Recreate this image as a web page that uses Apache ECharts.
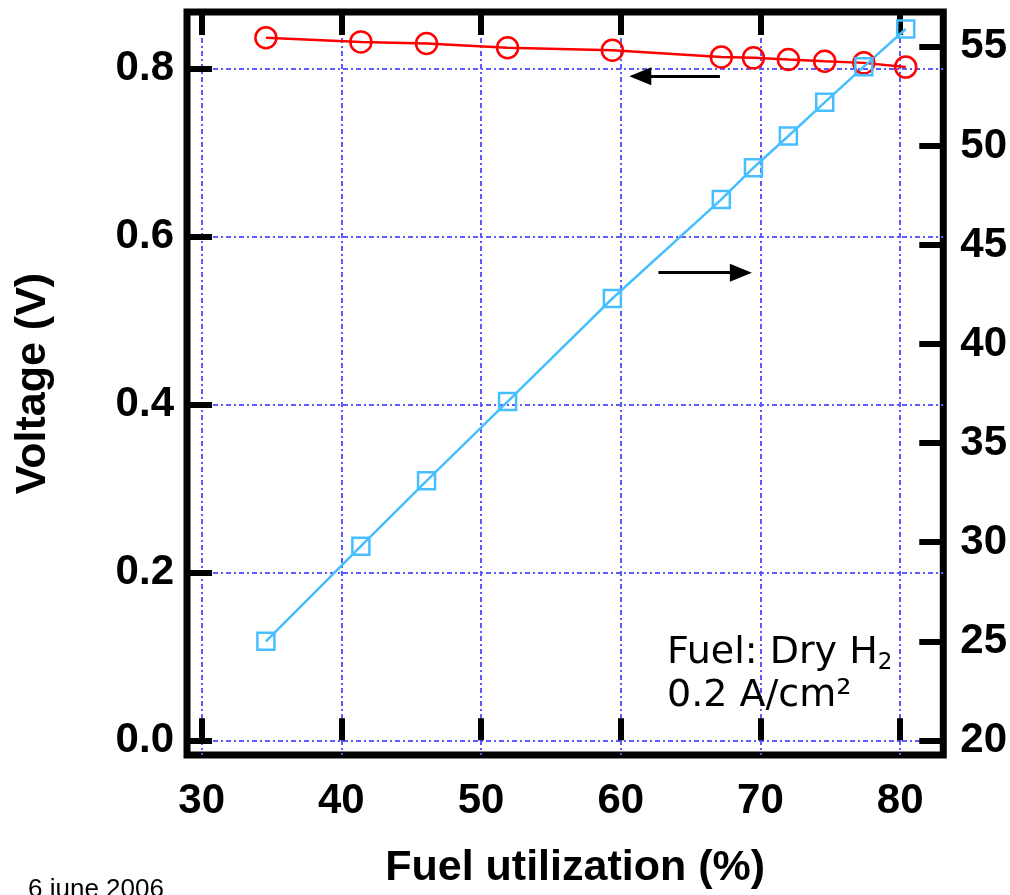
<!DOCTYPE html>
<html>
<head>
<meta charset="utf-8">
<script src="https://cdn.jsdelivr.net/npm/echarts@6/dist/echarts.min.js"></script>
<style>
  html, body { margin: 0; padding: 0; background: #fff; }
  #chart { width: 1010px; height: 895px; }
</style>
</head>
<body>
<div id="chart"></div>
<script>
// 燃料利用率 (%)，两条曲线共用
const utilization = [34.6, 41.4, 46.1, 51.9, 59.4, 67.2, 69.5, 72.0, 74.6, 77.4, 80.4];
// 电压 (V)，左轴
const voltage = [0.837, 0.832, 0.830, 0.825, 0.822, 0.814, 0.813, 0.811, 0.809, 0.807, 0.802];
// 右轴数值
const rightValues = [25.0, 29.8, 33.1, 37.1, 42.3, 47.3, 48.9, 50.5, 52.2, 54.0, 55.9];

// 刻度
const xTicks = [30, 40, 50, 60, 70, 80];
const voltTicks = [0, 0.2, 0.4, 0.6, 0.8];
const rightTicks = [20, 25, 30, 35, 40, 45, 50, 55];

// 箭头 [起点, 终点]
const leftArrow = [[67.1, 0.791], [61.4, 0.791]];
const rightArrow = [[62.7, 43.6], [68.6, 43.6]];

const chart = echarts.init(document.getElementById('chart'));

const font = '"Liberation Sans", Arial, sans-serif';
const labelStyle = { color: '#000', fontFamily: font, fontWeight: 'bold', fontSize: 42 };
const nameStyle = { color: '#000', fontFamily: font, fontWeight: 'bold', fontSize: 43 };
const gridLine = { show: true, lineStyle: { color: '#5a5aff', width: 2, type: [5, 3, 2, 3] } };
const tick = (len) => ({ show: true, inside: true, length: len, lineStyle: { color: '#000', width: 6 } });

const arrowLine = (pts) => ({
  silent: true,
  symbol: ['none', 'triangle'],
  symbolSize: [18, 22],
  label: { show: false },
  lineStyle: { color: '#000', width: 3, type: 'solid' },
  emphasis: { disabled: true },
  data: [[{ coord: pts[0] }, { coord: pts[1] }]]
});

const option = {
  animation: false,
  backgroundColor: '#fff',
  grid: {
    left: 187, right: 64, top: 12, bottom: 137,
    show: true, borderColor: '#000', borderWidth: 7
  },
  xAxis: [
    {
      type: 'value', position: 'bottom',
      min: 28.952, max: 83.088,
      axisLine: { show: false },
      axisTick: Object.assign(tick(22), { customValues: xTicks }),
      axisLabel: Object.assign({ margin: 25, customValues: xTicks }, labelStyle),
      splitLine: gridLine,
      name: 'Fuel utilization (%)',
      nameLocation: 'middle',
      nameGap: 92,
      nameTextStyle: Object.assign({ padding: [0, 0, 0, 20] }, nameStyle)
    },
    {
      type: 'value', position: 'top',
      min: 28.952, max: 83.088,
      axisLine: { show: false },
      axisTick: Object.assign(tick(23), { customValues: xTicks }),
      axisLabel: { show: false },
      splitLine: { show: false }
    }
  ],
  yAxis: [
    {
      type: 'value', position: 'left',
      min: -0.01744, max: 0.8676,
      axisLine: { show: false },
      axisTick: Object.assign(tick(25), { customValues: voltTicks }),
      axisLabel: Object.assign({
        margin: 13, customValues: voltTicks,
        formatter: (v) => v.toFixed(1)
      }, labelStyle),
      splitLine: gridLine,
      name: 'Voltage (V)',
      nameLocation: 'middle',
      nameGap: 132,
      nameRotate: 90,
      nameTextStyle: nameStyle
    },
    {
      type: 'value', position: 'right',
      min: 19.261, max: 56.759,
      axisLine: { show: false },
      axisTick: Object.assign(tick(24), { customValues: rightTicks }),
      axisLabel: Object.assign({ margin: 17, customValues: rightTicks }, labelStyle),
      splitLine: { show: false }
    }
  ],
  series: [
    {
      type: 'line',
      xAxisIndex: 0, yAxisIndex: 0,
      data: utilization.map((u, i) => [u, voltage[i]]),
      symbol: 'circle',
      symbolSize: 21,
      lineStyle: { color: '#ff0000', width: 2.5 },
      itemStyle: { color: 'rgba(0,0,0,0)', borderColor: '#ff0000', borderWidth: 2.5 },
      markLine: arrowLine(leftArrow),
      z: 3
    },
    {
      type: 'line',
      xAxisIndex: 0, yAxisIndex: 1,
      data: utilization.map((u, i) => [u, rightValues[i]]),
      symbol: 'rect',
      symbolSize: 17,
      lineStyle: { color: '#47bfff', width: 2.5 },
      itemStyle: { color: 'rgba(0,0,0,0)', borderColor: '#47bfff', borderWidth: 2.5 },
      markLine: arrowLine(rightArrow),
      z: 3
    }
  ],
  graphic: [
    {
      type: 'text', left: 667, top: 634, z: 10,
      style: {
        text: '{a|Fuel: Dry H}{s|2}\n{a|0.2 A/cm²}',
        fill: '#000',
        rich: {
          a: { fontFamily: '"DejaVu Sans", Verdana, sans-serif', fontSize: 38, lineHeight: 43, fill: '#000' },
          s: { fontFamily: '"DejaVu Sans", Verdana, sans-serif', fontSize: 23, lineHeight: 12, verticalAlign: 'bottom', fill: '#000' }
        }
      }
    },
    {
      type: 'text', left: 28, top: 877, z: 10,
      style: { text: '6 june 2006', fill: '#000', font: '26px "Liberation Sans", Arial, sans-serif' }
    }
  ]
};

chart.setOption(option);
</script>
</body>
</html>
